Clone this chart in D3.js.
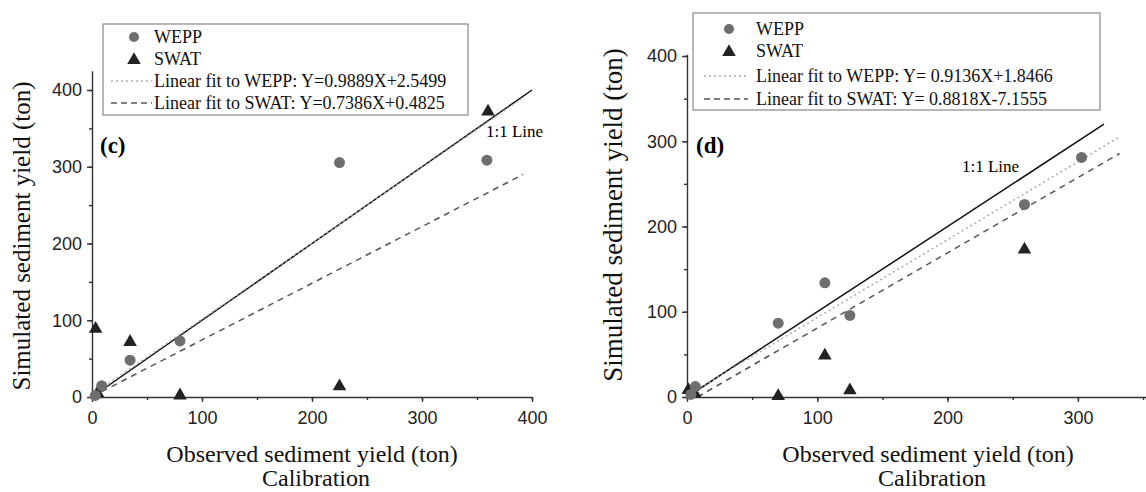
<!DOCTYPE html>
<html>
<head>
<meta charset="utf-8">
<script src="https://cdn.jsdelivr.net/npm/d3@7"></script>
<style>
  body { margin: 0; background: #fff; }
  svg { display: block; }
</style>
</head>
<body>
<div id="chart"></div>
<script>
// Panel (c) data - calibration
const cWeppObs = [3, 8.8, 34.6, 80, 225, 359];
const cWeppSim = [2, 14.8, 48, 73, 305.5, 308.5];
const cSwatObs = [3.3, 5, 34.6, 80, 225, 360];
const cSwatSim = [88.7, 5, 71.7, 2, 14, 372];
const cFitWepp = [0.9889, 2.5499];
const cFitSwat = [0.7386, 0.4825];
const cXTicks = [0, 100, 200, 300, 400];
const cYTicks = [0, 100, 200, 300, 400];

// Panel (d) data - calibration
const dWeppObs = [3, 6.4, 70, 105.8, 125, 259, 302.8];
const dWeppSim = [3, 12.3, 86.6, 134, 95.7, 225.8, 281];
const dSwatObs = [1, 6, 70, 105.8, 125, 259];
const dSwatSim = [8, 4, 1.2, 48.6, 7.9, 173];
const dFitWepp = [0.9136, 1.8466];
const dFitSwat = [0.8818, -7.1555];
const dXTicks = [0, 100, 200, 300];
const dYTicks = [0, 100, 200, 300, 400];

const width = 1146;
const height = 492;

const svg = d3.select("#chart")
  .append("svg")
  .attr("width", width)
  .attr("height", height);

const serif = "'Liberation Serif', 'Times New Roman', serif";
const sans = "'Liberation Sans', Arial, sans-serif";

function drawPanel(p) {
  const x = d3.scaleLinear().domain(p.xDomain).range(p.xRange);
  const y = d3.scaleLinear().domain(p.yDomain).range(p.yRange);
  const g = svg.append("g");

  // minor ticks
  const xMinor = d3.range(p.xDomain[0], p.xDomain[1] + 0.1, 50);
  const yMinor = d3.range(p.yDomain[0], p.yDomain[1] + 0.1, 50);
  g.append("g")
    .attr("transform", "translate(0," + p.yRange[0] + ")")
    .call(d3.axisBottom(x).tickValues(xMinor).tickSize(3).tickSizeOuter(0).tickFormat(""))
    .call(s => s.select(".domain").remove());
  g.append("g")
    .attr("transform", "translate(" + p.xRange[0] + ",0)")
    .call(d3.axisLeft(y).tickValues(yMinor).tickSize(3).tickSizeOuter(0).tickFormat(""))
    .call(s => s.select(".domain").remove());

  // major axes
  const xa = g.append("g")
    .attr("transform", "translate(0," + p.yRange[0] + ")")
    .call(d3.axisBottom(x).tickValues(p.xTicks).tickSize(5).tickSizeOuter(0).tickPadding(9));
  const ya = g.append("g")
    .attr("transform", "translate(" + p.xRange[0] + ",0)")
    .call(d3.axisLeft(y).tickValues(p.yTicks).tickSize(5).tickSizeOuter(0).tickPadding(5));
  [xa, ya].forEach(a => {
    a.selectAll("text").style("font-family", sans).style("font-size", "18px").attr("fill", "#222");
  });
  g.selectAll(".domain, .tick line").attr("stroke", "#333").attr("stroke-width", 1.4);

  // 1:1 line
  g.append("line")
    .attr("x1", x(0)).attr("y1", y(0))
    .attr("x2", x(p.oneEnd)).attr("y2", y(p.oneEnd))
    .attr("stroke", "#111").attr("stroke-width", 1.5);

  // fit lines
  const fit = (c, v) => c[0] * v + c[1];
  const x0w = Math.max(0, -p.fitWepp[1] / p.fitWepp[0]);
  g.append("line")
    .attr("x1", x(x0w)).attr("y1", y(fit(p.fitWepp, x0w)))
    .attr("x2", x(p.fitEnd)).attr("y2", y(fit(p.fitWepp, p.fitEnd)))
    .attr("stroke", "#aaa").attr("stroke-width", 1.5).attr("stroke-dasharray", "2,3");
  const x0s = Math.max(0, -p.fitSwat[1] / p.fitSwat[0]);
  g.append("line")
    .attr("x1", x(x0s)).attr("y1", y(fit(p.fitSwat, x0s)))
    .attr("x2", x(p.fitEnd)).attr("y2", y(fit(p.fitSwat, p.fitEnd)))
    .attr("stroke", "#555").attr("stroke-width", 1.5).attr("stroke-dasharray", "6,5");

  // points
  const tri = d3.symbol().type(d3.symbolTriangle).size(80);
  g.selectAll(".swat")
    .data(p.swatObs)
    .enter()
    .append("path")
    .attr("d", tri)
    .attr("transform", (d, i) => "translate(" + x(d) + "," + y(p.swatSim[i]) + ")")
    .attr("fill", "#222");
  g.selectAll(".wepp")
    .data(p.weppObs)
    .enter()
    .append("circle")
    .attr("cx", d => x(d))
    .attr("cy", (d, i) => y(p.weppSim[i]))
    .attr("r", 5.5)
    .attr("fill", "#6e6e6e");

  // panel letter and 1:1 label
  g.append("text")
    .attr("x", p.letterPos[0]).attr("y", p.letterPos[1])
    .style("font-family", serif).style("font-size", "23px").style("font-weight", "bold")
    .text(p.letter);
  g.append("text")
    .attr("x", p.onePos[0]).attr("y", p.onePos[1])
    .style("font-family", serif).style("font-size", "17px")
    .text("1:1 Line");

  // legend
  const lg = g.append("g");
  lg.append("rect")
    .attr("x", p.legBox[0]).attr("y", p.legBox[1])
    .attr("width", p.legBox[2]).attr("height", p.legBox[3])
    .attr("fill", "#fff").attr("stroke", "#888").attr("stroke-width", 1.2);
  const rows = p.legRows;
  lg.append("circle").attr("cx", p.legMarkX).attr("cy", rows[0]).attr("r", 5).attr("fill", "#6e6e6e");
  lg.append("path").attr("d", tri).attr("transform", "translate(" + p.legMarkX + "," + (rows[1] + 1) + ")").attr("fill", "#222");
  lg.append("line").attr("x1", p.legLine[0]).attr("x2", p.legLine[1]).attr("y1", rows[2]).attr("y2", rows[2])
    .attr("stroke", "#aaa").attr("stroke-width", 1.3).attr("stroke-dasharray", "2,3");
  lg.append("line").attr("x1", p.legLine[0]).attr("x2", p.legLine[1]).attr("y1", rows[3]).attr("y2", rows[3])
    .attr("stroke", "#555").attr("stroke-width", 1.3).attr("stroke-dasharray", "6,4");
  lg.selectAll(".lt")
    .data(p.legText)
    .enter()
    .append("text")
    .attr("x", p.legTextX)
    .attr("y", (d, i) => rows[i])
    .attr("dy", "0.35em")
    .style("font-family", serif).style("font-size", "18px").attr("fill", "#111")
    .text(d => d);

  // axis titles
  g.append("text")
    .attr("transform", "translate(" + p.yTitle[0] + "," + p.yTitle[1] + ") rotate(-90)")
    .attr("text-anchor", "middle")
    .style("font-family", serif).style("font-size", p.yTitleSize).attr("fill", "#111")
    .text("Simulated sediment yield (ton)");
  g.append("text")
    .attr("x", p.xTitle[0]).attr("y", p.xTitle[1])
    .attr("text-anchor", "middle")
    .style("font-family", serif).style("font-size", "24px").attr("fill", "#111")
    .text("Observed sediment yield (ton)");
  g.append("text")
    .attr("x", p.xTitle[0] + 4).attr("y", p.xTitle[1] + 24)
    .attr("text-anchor", "middle")
    .style("font-family", serif).style("font-size", "24px").attr("fill", "#111")
    .text("Calibration");
}

drawPanel({
  xDomain: [0, 400], xRange: [92, 532],
  yDomain: [0, 425], yRange: [397, 397 - 425 * 0.7675],
  xTicks: cXTicks, yTicks: cYTicks,
  weppObs: cWeppObs, weppSim: cWeppSim, swatObs: cSwatObs, swatSim: cSwatSim,
  fitWepp: cFitWepp, fitSwat: cFitSwat, oneEnd: 400, fitEnd: 392,
  letter: "(c)", letterPos: [100, 153], onePos: [486, 137],
  legBox: [103, 24, 365, 91], legRows: [37, 59, 81, 103], legMarkX: 134, legTextX: 154, legLine: [111, 152],
  legText: ["WEPP", "SWAT", "Linear fit to WEPP: Y=0.9889X+2.5499", "Linear fit to SWAT: Y=0.7386X+0.4825"],
  yTitle: [30, 236], yTitleSize: "25px", xTitle: [312, 462]
});

drawPanel({
  xDomain: [0, 352], xRange: [687, 687 + 352 * 1.303],
  yDomain: [0, 402], yRange: [397, 397 - 402 * 0.8525],
  xTicks: dXTicks, yTicks: dYTicks,
  weppObs: dWeppObs, weppSim: dWeppSim, swatObs: dSwatObs, swatSim: dSwatSim,
  fitWepp: dFitWepp, fitSwat: dFitSwat, oneEnd: 320, fitEnd: 332,
  letter: "(d)", letterPos: [696, 153], onePos: [962, 172],
  legBox: [693, 13, 407, 97], legRows: [29, 51, 76, 99], legMarkX: 729, legTextX: 756, legLine: [704, 748],
  legText: ["WEPP", "SWAT", "Linear fit to WEPP: Y= 0.9136X+1.8466", "Linear fit to SWAT: Y= 0.8818X-7.1555"],
  yTitle: [622, 215], yTitleSize: "27px", xTitle: [928, 462]
});
</script>
</body>
</html>
